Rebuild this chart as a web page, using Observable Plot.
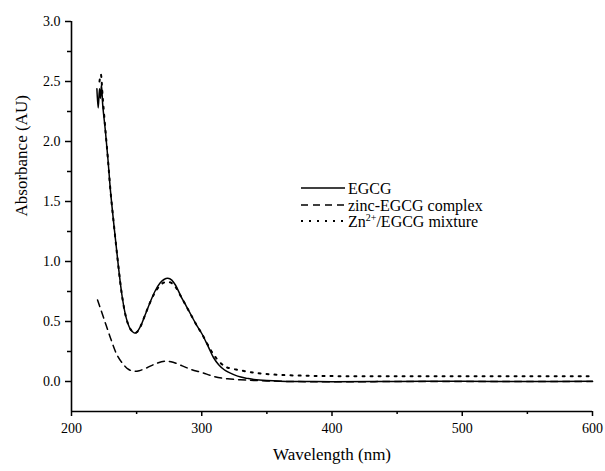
<!DOCTYPE html>
<html><head><meta charset="utf-8">
<script src="https://cdn.jsdelivr.net/npm/d3@7"></script>
<script src="https://cdn.jsdelivr.net/npm/@observablehq/plot@0.6"></script>
<style>
body{margin:0;background:#fff;}
#wrap{position:relative;width:605px;height:471px;font-family:"Liberation Serif","Tinos","DejaVu Serif",serif;}
#legend{position:absolute;left:0;top:0;pointer-events:none;}
svg text{font-family:"Liberation Serif","Tinos","DejaVu Serif",serif !important;}
</style>
</head><body>
<div id="wrap"></div>
<script>
// Series: [wavelength (nm), absorbance (AU)]
const egcg = [
  [219.5,2.44],[220.5,2.28],[221.5,2.44],[222.2,2.36],[223,2.47],[224,2.30],[226,2.09],[228,1.85],
  [230,1.58],[233,1.26],[236,0.96],[239,0.70],[242,0.53],[245,0.44],[248,0.405],[250,0.41],
  [253,0.46],[256,0.54],[260,0.65],[264,0.75],[268,0.82],[271,0.85],[274,0.86],[277,0.845],
  [280,0.80],[284,0.71],[288,0.63],[292,0.55],[296,0.47],[300,0.40],[305,0.29],[309,0.20],
  [313,0.14],[317,0.10],[320,0.08],[325,0.055],[330,0.037],[335,0.026],[340,0.017],[350,0.008],
  [360,0.003],[380,0.0],[400,-0.002],[450,0.0],[500,0.002],[550,0.0],[600,0.002]
];
const complex = [
  [220,0.68],[225,0.52],[230,0.36],[235,0.22],[240,0.14],[244,0.10],[248,0.085],[252,0.09],
  [258,0.115],[265,0.15],[272,0.17],[278,0.16],[285,0.13],[292,0.10],[300,0.075],[310,0.04],
  [320,0.022],[335,0.012],[350,0.005],[370,0.0],[400,-0.003],[450,0.0],[500,0.0],[550,0.0],[600,0.0]
];
const mixture = [
  [221.5,2.50],[222.5,2.56],[224,2.36],[226,2.10],[228,1.85],[230,1.58],[233,1.26],[236,0.96],
  [239,0.70],[242,0.53],[245,0.44],[248,0.405],[250,0.41],[253,0.46],[256,0.54],[260,0.65],
  [264,0.74],[268,0.80],[271,0.825],[274,0.83],[277,0.82],[280,0.785],[284,0.71],[288,0.63],
  [292,0.55],[296,0.47],[300,0.40],[305,0.30],[310,0.21],[317,0.13],[320,0.115],[330,0.092],
  [340,0.074],[348,0.064],[360,0.055],[380,0.048],[400,0.045],[450,0.044],[500,0.044],[550,0.044],[600,0.044]
];
const xMajor = [200, 300, 400, 500, 600];
const xMinor = [250, 350, 450, 550];
const yMajor = [0, 0.5, 1.0, 1.5, 2.0, 2.5, 3.0];
const yMinor = [0.25, 0.75, 1.25, 1.75, 2.25, 2.75];
const xTitle = "Wavelength (nm)";
const yTitle = "Absorbance (AU)";
const FONT = "'Liberation Serif', Tinos, 'DejaVu Serif', serif";

const chart = Plot.plot({
  width: 605, height: 471,
  marginLeft: 71, marginRight: 13, marginTop: 21, marginBottom: 60,
  style: {fontFamily: FONT, fontSize: "14px", background: "white", color: "black", overflow: "visible"},
  x: {domain: [200, 600]},
  y: {domain: [-0.25, 3.0]},
  marks: [
    Plot.axisX({ticks: xMajor, tickSize: 5, tickPadding: 7, tickFormat: d3.format("d"), label: null, fontSize: 14, strokeWidth: 1.5}),
    Plot.axisX({ticks: xMinor, tickSize: 3, text: null, label: null, strokeWidth: 1.5}),
    Plot.axisY({ticks: yMajor, tickSize: 6, tickPadding: 5, tickFormat: d3.format(".1f"), label: null, fontSize: 14, strokeWidth: 1.5}),
    Plot.axisY({ticks: yMinor, tickSize: 4, text: null, label: null, strokeWidth: 1.5}),
    Plot.ruleX([200], {strokeWidth: 1.6}),
    Plot.ruleY([-0.25], {strokeWidth: 1.6}),
    Plot.text([xTitle], {text: d => d, frameAnchor: "bottom", dy: 48, fontSize: 17}),
    Plot.text([yTitle], {text: d => d, frameAnchor: "left", dx: -50, rotate: -90, fontSize: 17}),
    Plot.line(complex, {x: d => d[0], y: d => d[1], curve: "catmull-rom", strokeWidth: 1.5, strokeDasharray: "7,5"}),
    Plot.line(mixture, {x: d => d[0], y: d => d[1], curve: "catmull-rom", strokeWidth: 2, strokeDasharray: "2,6"}),
    Plot.line(egcg, {x: d => d[0], y: d => d[1], curve: "catmull-rom", strokeWidth: 1.5})
  ]
});
const wrap = document.getElementById("wrap");
wrap.appendChild(chart);

// Legend overlay
const legendItems = [
  {dash: null, width: 1.5, parts: [["EGCG", false]]},
  {dash: "7,5", width: 1.5, parts: [["zinc-EGCG complex", false]]},
  {dash: "2,6", width: 2, parts: [["Zn", false], ["2+", true], ["/EGCG mixture", false]]}
];
const ns = "http://www.w3.org/2000/svg";
const lg = document.createElementNS(ns, "svg");
lg.setAttribute("id", "legend");
lg.setAttribute("width", 605); lg.setAttribute("height", 471);
const rowY = [188, 205, 221];
legendItems.forEach((it, i) => {
  const y = rowY[i];
  const ln = document.createElementNS(ns, "line");
  ln.setAttribute("x1", 301); ln.setAttribute("x2", 345);
  ln.setAttribute("y1", y); ln.setAttribute("y2", y);
  ln.setAttribute("stroke", "black"); ln.setAttribute("stroke-width", it.width);
  if (it.dash) ln.setAttribute("stroke-dasharray", it.dash);
  lg.appendChild(ln);
  const tx = document.createElementNS(ns, "text");
  tx.setAttribute("x", 348); tx.setAttribute("y", y + 6);
  tx.setAttribute("font-size", 16);
  tx.setAttribute("font-family", FONT);
  let prevSup = false;
  it.parts.forEach(([s, sup]) => {
    const ts = document.createElementNS(ns, "tspan");
    ts.textContent = s;
    if (sup) { ts.setAttribute("dy", -6); ts.setAttribute("font-size", 10); }
    else if (prevSup) { ts.setAttribute("dy", 6); }
    prevSup = sup;
    tx.appendChild(ts);
  });
  lg.appendChild(tx);
});
wrap.appendChild(lg);
</script>
</body></html>
